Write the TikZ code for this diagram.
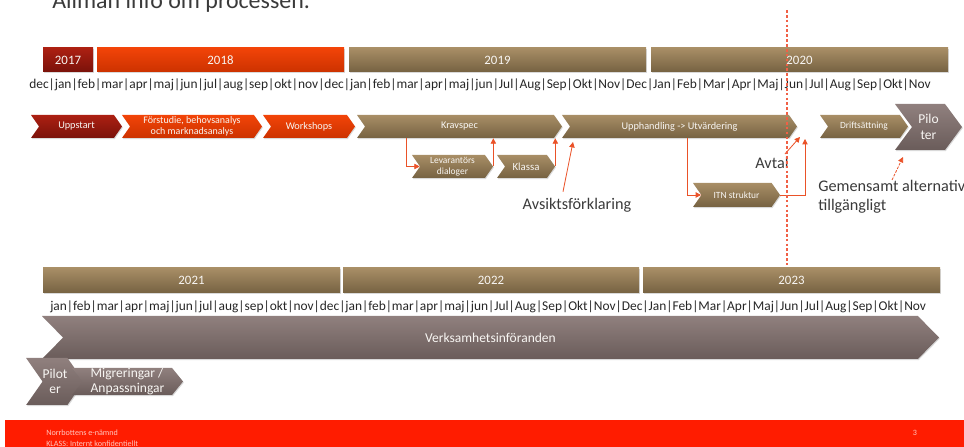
\documentclass[tikz,border=0pt]{standalone}
\usepackage{fontspec}
\setmainfont{Carlito}
\usetikzlibrary{shapes.symbols,shadows,arrows.meta}
\definecolor{rusttop}{RGB}{172,32,18}
\definecolor{rustbot}{RGB}{122,18,10}
\definecolor{flametop}{RGB}{242,68,8}
\definecolor{flamebot}{RGB}{204,50,0}
\definecolor{tantop}{RGB}{168,142,102}
\definecolor{tanbot}{RGB}{118,98,66}
\definecolor{mauvetop}{RGB}{144,128,126}
\definecolor{mauvebot}{RGB}{106,92,90}
\definecolor{linkred}{RGB}{234,82,40}
\definecolor{todayred}{RGB}{240,96,70}
\definecolor{slidered}{RGB}{255,28,0}
\definecolor{labelgray}{RGB}{58,58,58}
\newcommand{\pxu}{0.026cm}
\tikzset{
  soft-shadow/.style={drop shadow={shadow xshift=0.6pt, shadow yshift=-0.8pt, opacity=0.3}},
  rust-fill/.style={top color=rusttop, bottom color=rustbot},
  flame-fill/.style={top color=flametop, bottom color=flamebot},
  tan-fill/.style={top color=tantop, bottom color=tanbot},
  mauve-fill/.style={top color=mauvetop, bottom color=mauvebot},
  yearbar/.style={
    rectangle, draw=none, inner sep=0pt, soft-shadow,
    minimum height=24*\pxu, text=white!92!tantop,
    font=\fontsize{9.5}{10}\selectfont
  },
  chev/.style={
    shape=signal, signal from=west, signal to=east,
    signal pointer angle=110, draw=none, inner sep=0pt, soft-shadow,
    minimum height=23*\pxu, text=white!92!tantop, align=center,
    font=\fontsize{7.6}{8.6}\selectfont
  },
  months/.style={inner sep=0pt, text=black!85, font=\fontsize{9.93}{11}\selectfont},
  note/.style={inner sep=0pt, text=labelgray, font=\fontsize{12}{14}\selectfont},
  link/.style={draw=linkred, line width=0.6pt, -{Triangle[length=4pt,width=4pt]}},
  nowline/.style={draw=todayred, line width=0.9pt, dash pattern=on 2pt off 1.6pt}
}

\begin{document}
\begin{tikzpicture}[x=\pxu, y=-\pxu]
  \useasboundingbox (0,0) rectangle (964,447);
  \clip (0,0) rectangle (964,447);
  % Rubrik
  \node[anchor=base west, inner sep=0pt, text=labelgray, font=\fontsize{17.7}{20}\selectfont] (rubrik) at (52,9) {Allmän info om processen.};
  % Ar, forsta raden
  \node[yearbar, rust-fill, minimum width=50*\pxu] (y2017) at (68,60) {2017};
  \node[yearbar, flame-fill, minimum width=247*\pxu] (y2018) at (220.5,60) {2018};
  \node[yearbar, tan-fill, minimum width=297*\pxu] (y2019) at (497.5,60) {2019};
  \node[yearbar, tan-fill, minimum width=297*\pxu] (y2020) at (799.5,60) {2020};
  \node[months, anchor=west] (manad1) at (29,85)
    {dec|jan|feb|mar|apr|maj|jun|jul|aug|sep|okt|nov|dec|jan|feb|mar|apr|maj|jun|Jul|Aug|Sep|Okt|Nov|Dec|Jan|Feb|Mar|Apr|Maj|Jun|Jul|Aug|Sep|Okt|Nov};
  % Faser
  \node[chev, rust-fill, minimum width=91*\pxu] (uppstart) at (76.5,126.5) {Uppstart};
  \node[chev, flame-fill, minimum width=140*\pxu, font=\fontsize{7.4}{8}\selectfont] (forstudie) at (192,126.5) {Förstudie, behovsanalys\\och marknadsanalys};
  \node[chev, flame-fill, minimum width=92*\pxu] (workshops) at (309,126.5) {Workshops};
  \node[chev, tan-fill, minimum width=205*\pxu] (krav) at (459.5,126.5) {Kravspec};
  \node[chev, tan-fill, minimum width=235*\pxu] (upph) at (679.5,126.5) {Upphandling -> Utvärdering};
  \node[chev, tan-fill, minimum width=88*\pxu, font=\fontsize{7}{8}\selectfont] (drift) at (864,126.5) {Driftsättning};
  \node[chev, mauve-fill, minimum width=67*\pxu, minimum height=46*\pxu, signal pointer angle=107,
    font=\fontsize{10}{11.5}\selectfont] (pilot) at (928.5,127) {Pilo\\ter};
  % Delsteg
  \node[chev, tan-fill, minimum width=81*\pxu, font=\fontsize{7}{8}\selectfont] (lev) at (452.5,166.5) {Levarantörs\\dialoger};
  \node[chev, tan-fill, minimum width=58*\pxu, font=\fontsize{8}{9}\selectfont] (klassa) at (526,166.5) {Klassa};
  \node[chev, tan-fill, minimum width=87*\pxu, minimum height=24*\pxu, font=\fontsize{7}{8}\selectfont] (itn) at (736.5,195) {ITN struktur};
  % Kopplingar
  \draw[link] ([xshift=-53.5*\pxu]krav.south) |- (lev.west);
  \draw[link] (lev.east) -- (lev.east |- krav.south);
  \draw[link] (klassa.east) -- (klassa.east |- krav.south);
  \draw[link] ([xshift=7.5*\pxu]upph.south) |- (itn.west);
  \coordinate (avtalmark) at (805,139);
  \draw[link] (itn.east) -| (avtalmark);
  % Etiketter
  \node[note] (avsikt) at (577,205) {Avsiktsförklaring};
  \node[note] (avtal) at (772,163) {Avtal};
  \node[note, anchor=north west, align=left, font=\fontsize{12}{14}\selectfont] (gem) at (818,180) {Gemensamt alternativ\\tillgängligt};
  \coordinate (avsikttip) at (573,142);
  \coordinate (avtaltip) at (800,137);
  \coordinate (gemtip) at (903,157);
  \draw[link] ([xshift=-14*\pxu, yshift=6*\pxu]avsikt.north) -- (avsikttip);
  \draw[link] ([xshift=-4*\pxu, yshift=3*\pxu]avtal.north east) -- (avtaltip);
  \draw[link, dash pattern=on 2pt off 1pt] ([xshift=74*\pxu]gem.north west) -- (gemtip);
  % Idag
  \draw[nowline] (787,10) -- (787,265);
  % Ar, andra raden
  \node[yearbar, tan-fill, minimum width=297*\pxu, minimum height=25*\pxu] (y2021) at (191.5,280.5) {2021};
  \node[yearbar, tan-fill, minimum width=296*\pxu, minimum height=25*\pxu] (y2022) at (491,280.5) {2022};
  \node[yearbar, tan-fill, minimum width=297*\pxu, minimum height=25*\pxu] (y2023) at (791.5,280.5) {2023};
  \node[months, anchor=west] (manad2) at (50,307)
    {jan|feb|mar|apr|maj|jun|jul|aug|sep|okt|nov|dec|jan|feb|mar|apr|maj|jun|Jul|Aug|Sep|Okt|Nov|Dec|Jan|Feb|Mar|Apr|Maj|Jun|Jul|Aug|Sep|Okt|Nov};
  \node[chev, mauve-fill, minimum width=897*\pxu, minimum height=43*\pxu, signal pointer angle=91,
    font=\fontsize{10}{11}\selectfont] (verks) at (490.5,337.5) {Verksamhetsinföranden};
  \node[chev, mauve-fill, minimum width=34*\pxu, minimum height=47*\pxu, signal pointer angle=110,
    font=\fontsize{10}{11.5}\selectfont] (pilot2) at (55,381.5) {Pilot\\er};
  \node[chev, mauve-fill, minimum width=111*\pxu, minimum height=27*\pxu, signal pointer angle=102,
    align=left, font=\fontsize{10}{11}\selectfont] (migr) at (127.5,381.5) {Migreringar /\\Anpassningar};
  % Sidfot
  \fill[slidered] (5,420) rectangle (964,447);
  \node[anchor=west, inner sep=0pt, text=white!75!slidered, font=\fontsize{6}{7}\selectfont] (avsandare) at (46,433) {Norrbottens e-nämnd};
  \node[anchor=west, inner sep=0pt, text=white!75!slidered, font=\fontsize{6}{7}\selectfont] (klass) at (46,444) {KLASS: Internt konfidentiellt};
  \node[inner sep=0pt, text=white!75!slidered, font=\fontsize{6}{7}\selectfont] (sidnr) at (915,433) {3};
\end{tikzpicture}
\end{document}
